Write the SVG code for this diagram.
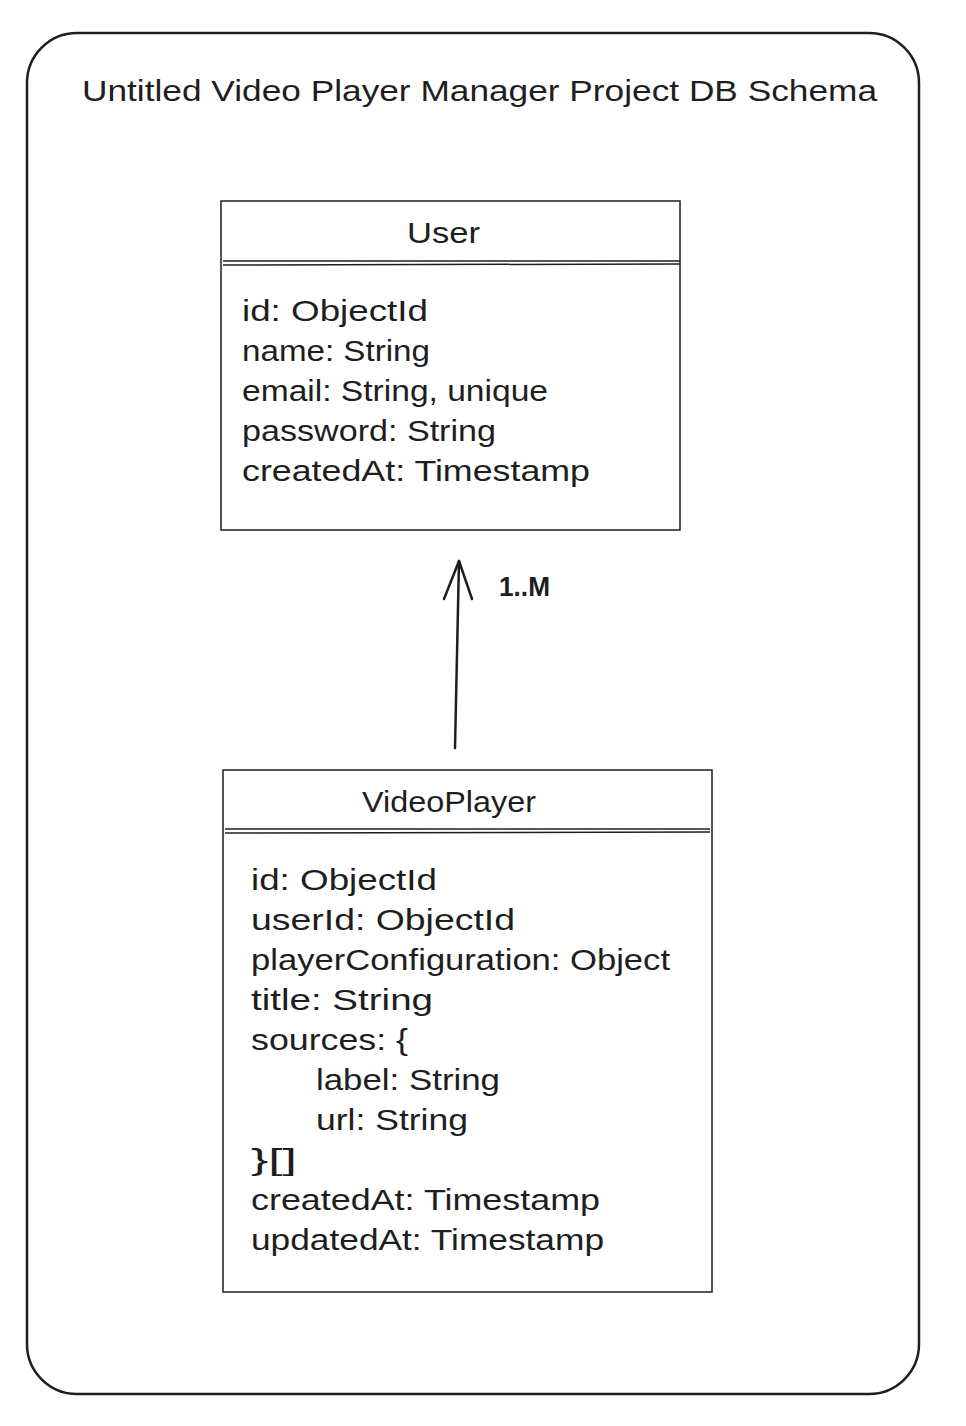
<svg xmlns="http://www.w3.org/2000/svg" width="966" height="1426" viewBox="0 0 966 1426">
<defs>
<style>
.t{font-family:"Liberation Sans","DejaVu Sans",sans-serif;fill:#1e1e1e;}
.ttl{font-size:30px;}
.hd{font-size:30px;}
.at{font-size:29px;}
.lbl{font-size:27px;font-weight:bold;}
.bx{fill:none;stroke:#1e1e1e;stroke-width:1.5;}
.frame{fill:none;stroke:#1e1e1e;stroke-width:2.5;}
.ln{fill:none;stroke:#1e1e1e;stroke-width:2.5;stroke-linecap:round;stroke-linejoin:round;}
</style>
</defs>
<rect width="966" height="1426" fill="#ffffff"/>
<g id="frame">
<rect class="frame" x="27" y="33" width="892" height="1361" rx="50" ry="50"/>
<text class="t ttl" x="82" y="101" textLength="795" lengthAdjust="spacingAndGlyphs">Untitled Video Player Manager Project DB Schema</text>
</g>
<g id="user">
<rect class="bx" x="221" y="201" width="459" height="329"/>
<line class="bx" x1="223" y1="261" x2="680" y2="261"/>
<line class="bx" x1="223" y1="265" x2="680" y2="264"/>
<text class="t hd" x="407" y="243" textLength="73" lengthAdjust="spacingAndGlyphs">User</text>
<text class="t at" x="242" y="321" textLength="186" lengthAdjust="spacingAndGlyphs">id: ObjectId</text>
<text class="t at" x="242" y="361" textLength="188" lengthAdjust="spacingAndGlyphs">name: String</text>
<text class="t at" x="242" y="401" textLength="306" lengthAdjust="spacingAndGlyphs">email: String, unique</text>
<text class="t at" x="242" y="441" textLength="254" lengthAdjust="spacingAndGlyphs">password: String</text>
<text class="t at" x="242" y="481" textLength="348" lengthAdjust="spacingAndGlyphs">createdAt: Timestamp</text>
</g>
<g id="videoplayer">
<rect class="bx" x="223" y="770" width="489" height="522"/>
<line class="bx" x1="225" y1="829" x2="710" y2="829"/>
<line class="bx" x1="225" y1="833" x2="710" y2="832"/>
<text class="t hd" x="362" y="812" textLength="174" lengthAdjust="spacingAndGlyphs">VideoPlayer</text>
<text class="t at" x="251" y="890" textLength="186" lengthAdjust="spacingAndGlyphs">id: ObjectId</text>
<text class="t at" x="251" y="930" textLength="264" lengthAdjust="spacingAndGlyphs">userId: ObjectId</text>
<text class="t at" x="251" y="970" textLength="419" lengthAdjust="spacingAndGlyphs">playerConfiguration: Object</text>
<text class="t at" x="251" y="1010" textLength="182" lengthAdjust="spacingAndGlyphs">title: String</text>
<text class="t at" x="251" y="1050" textLength="157" lengthAdjust="spacingAndGlyphs">sources: {</text>
<text class="t at" x="316" y="1090" textLength="184" lengthAdjust="spacingAndGlyphs">label: String</text>
<text class="t at" x="316" y="1130" textLength="152" lengthAdjust="spacingAndGlyphs">url: String</text>
<text class="t at" x="251" y="1170" textLength="46" lengthAdjust="spacingAndGlyphs">}[]</text>
<text class="t at" x="251" y="1210" textLength="349" lengthAdjust="spacingAndGlyphs">createdAt: Timestamp</text>
<text class="t at" x="251" y="1250" textLength="353" lengthAdjust="spacingAndGlyphs">updatedAt: Timestamp</text>
</g>
<g id="connectors">
<path class="ln" d="M455 748 L459 561"/>
<path class="ln" d="M444 599 L459 561 L472 599"/>
<text class="t lbl" x="499" y="596" textLength="51" lengthAdjust="spacingAndGlyphs">1..M</text>
</g>
</svg>
